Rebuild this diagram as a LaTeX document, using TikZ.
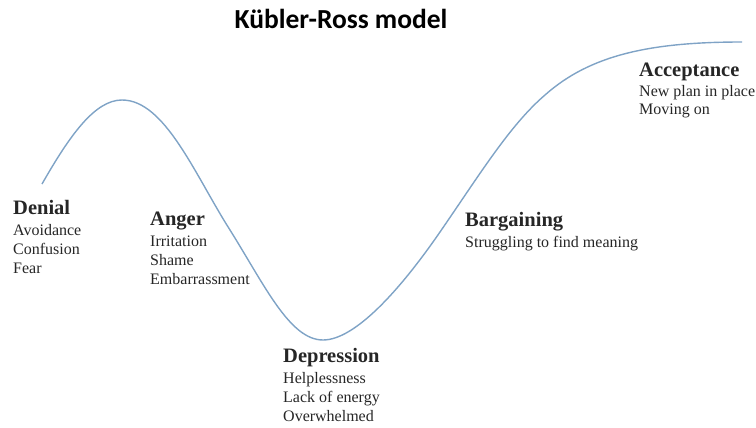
\documentclass[tikz,border=0pt]{standalone}
\usepackage{fontspec}
\setmainfont{Liberation Serif}
\newfontfamily\titlefont{Carlito}
\begin{document}
\begin{tikzpicture}[x=1pt,y=-1pt,
  curve/.style={draw=curveblue,line width=1.4pt},
  stage/.style={anchor=base west,align=left,inner sep=0pt,
    font=\fontsize{16}{19}\selectfont,text=black!85}]
\definecolor{curveblue}{RGB}{127,163,198}
\useasboundingbox (0,0) rectangle (756,428);
\node[font=\titlefont\bfseries\fontsize{27.5}{30}\selectfont,anchor=base] (title) at (341,29) {Kübler-Ross model};
\coordinate (c0) at (42,184);
\coordinate (c1) at (122,100);
\coordinate (c2) at (230,230);
\coordinate (c3) at (323,340);
\coordinate (c4) at (440,232);
\coordinate (c5) at (545,95);
\coordinate (c6) at (742,42);
\draw[curve] (c0) .. controls (70,135) and (95,100) .. (c1)
  .. controls (165,100) and (195,175) .. (c2)
  .. controls (265,286) and (290,340) .. (c3)
  .. controls (355,340) and (400,290) .. (c4)
  .. controls (480,174) and (510,125) .. (c5)
  .. controls (590,55) and (650,42) .. (c6);
\node[stage] (denial) at (13,273) {{\fontsize{20.5}{21}\selectfont\bfseries Denial}\\[2pt]Avoidance\\Confusion\\Fear};
\node[stage] (anger) at (150,284) {{\fontsize{20.5}{21}\selectfont\bfseries Anger}\\[2pt]Irritation\\Shame\\Embarrassment};
\node[stage] (depression) at (283,421) {{\fontsize{20.5}{21}\selectfont\bfseries Depression}\\[2pt]Helplessness\\Lack of energy\\Overwhelmed};
\node[stage] (bargaining) at (465,247) {{\fontsize{20.5}{21}\selectfont\bfseries Bargaining}\\[2pt]Struggling to find meaning};
\node[stage] (acceptance) at (639,115) {{\fontsize{20.5}{21}\selectfont\bfseries Acceptance}\\[1pt]New plan in place\\Moving on};
\end{tikzpicture}
\end{document}
